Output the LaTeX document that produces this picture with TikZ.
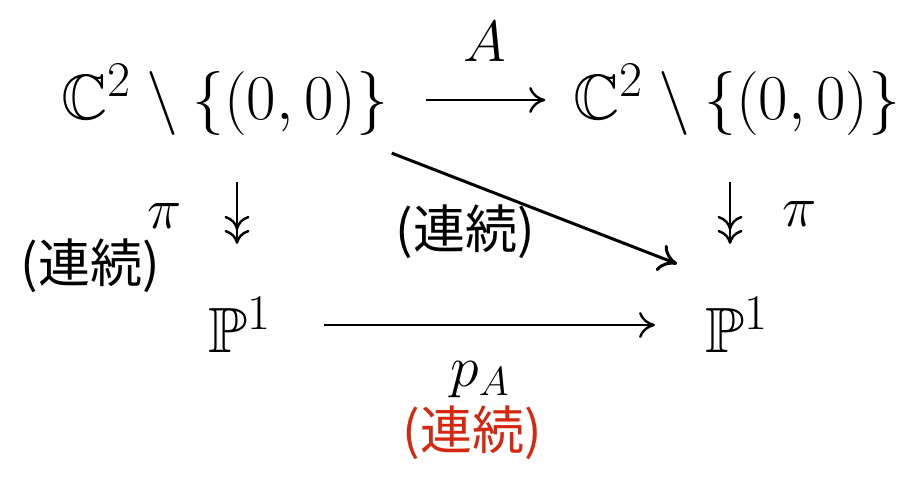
\RequirePackage{fix-cm}
\documentclass[tikz,border=0pt]{standalone}
\usepackage{amsmath, amssymb}
\usepackage{fontspec}
\newfontfamily\jpfont{Noto Sans CJK JP}
\usepackage{xcolor}
\usetikzlibrary{arrows.meta}
\definecolor{contred}{RGB}{214,40,16}
\DeclareMathSizes{32}{32}{25}{18}

\begin{document}
\begin{tikzpicture}[x=5pt, y=-5pt, every node/.style={inner sep=0pt},
  obj/.style={font=\fontsize{32}{38}\selectfont},
  lbl/.style={font=\fontsize{29}{34}\selectfont},
  cont/.style={font=\jpfont\fontsize{26}{30}\selectfont},
  arrow/.style={-{Computer Modern Rightarrow[length=8pt, width=13pt, line width=1.2pt]}, line width=1.2pt},
  surj/.style={-{Computer Modern Rightarrow[length=7pt, width=12.5pt, line width=1.2pt]
    Computer Modern Rightarrow[length=7pt, width=12.5pt, line width=1.2pt]}, line width=1.2pt},
  diag/.style={-{Computer Modern Rightarrow[length=9pt, width=14pt, line width=1.5pt]}, line width=1.5pt}]
\useasboundingbox (0,0) rectangle (92,48);
% spaces and projective lines
\node[obj] (TL) at (22.5,10)   {$\mathbb{C}^2 \setminus \{(0,0)\}$};
\node[obj] (TR) at (73.7,10)   {$\mathbb{C}^2 \setminus \{(0,0)\}$};
\node[obj] (BL) at (24,32.5)   {$\mathbb{P}^1$};
\node[obj] (BR) at (73.7,32.5) {$\mathbb{P}^1$};
% maps
\draw[arrow, shorten <=18.5pt, shorten >=14pt] (TL) -- (TR);
\draw[surj, shorten <=23pt, shorten >=26.5pt] ([xshift=-1.5pt]TL.south -| BL.north) -- ([xshift=-1.5pt]BL.north);
\draw[surj, shorten <=23pt, shorten >=26.5pt] ([xshift=-3.5pt]TR.south) -- ([xshift=-3.5pt]BR.north);
\draw[arrow, shorten <=26pt, shorten >=25pt] (BL) -- (BR);
\draw[diag] ([shift={(0.3,1.7)}]TL.south east) -- ([shift={(-2.8,-3.3)}]BR.north west);
% labels
\node[lbl] (lA)  at (48.5,4.2)  {$A$};
\node[lbl] (lpL) at (16.5,21.6) {$\pi$};
\node[lbl] (lpR) at (80,21.4)   {$\pi$};
\node[lbl] (lpA) at (48,38)     {$p_A$};
\node[cont] (cL) at (9,26.6)    {(連続)};
\node[cont] (cD) at (46.5,23.2) {(連続)};
\node[cont, text=contred] (cB) at (47.2,43.3) {(連続)};
\end{tikzpicture}
\end{document}
